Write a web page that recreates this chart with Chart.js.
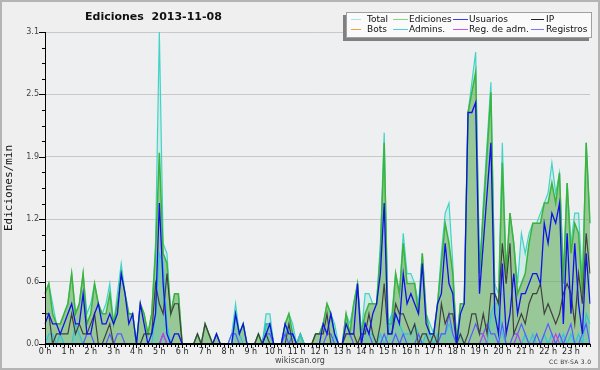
<!DOCTYPE html>
<html>
<head>
<meta charset="utf-8">
<script src="https://cdn.jsdelivr.net/npm/chart.js@4/dist/chart.umd.min.js"></script>
<style>
  body { margin: 0; background: #efefef; }
  #wrap { position: relative; width: 600px; height: 370px; background: #efefef; font-family: 'DejaVu Sans', sans-serif; overflow: hidden; }
  #chart { position: absolute; left: 0; top: 0; }
  .abs { position: absolute; white-space: pre; }
  #frame { position: absolute; left: 0; top: 0; width: 600px; height: 370px; box-sizing: border-box; border: 2px solid #b4b4b4; pointer-events: none; }
  #title { left: 85px; top: 10px; font-size: 11px; font-weight: bold; line-height: 13px; color: #111; }
  #site { left: 250px; width: 100px; top: 355px; font-size: 8px; line-height: 12px; color: #444; text-align: center; }
  #licence { left: 549px; top: 357px; font-size: 6px; line-height: 9px; letter-spacing: 0.3px; color: #333; }
  #legendShadow { position: absolute; left: 343px; top: 15px; width: 246px; height: 26px; background: #808080; }
  #legend { position: absolute; left: 346px; top: 12px; width: 244px; height: 24px; background: #fafafa; border: 1px solid #a0a0a0; }
  .sw { position: absolute; height: 1px; }
  .lb { position: absolute; font-size: 9px; line-height: 11px; color: #111; white-space: pre; }
</style>
</head>
<body>
<div id="wrap">
  <canvas id="chart" width="600" height="370"></canvas>
  <div id="title" class="abs">Ediciones  2013-11-08</div>
  <div id="site" class="abs">wikiscan.org</div>
  <div id="licence" class="abs">CC BY-SA 3.0</div>
  <div id="legendShadow"></div>
  <div id="legend"></div>
  <div id="frame"></div>
</div>
<script>
// 10-minute slots, values in edits per minute
const hourLabels = ['0 h', '1 h', '2 h', '3 h', '4 h', '5 h', '6 h', '7 h', '8 h', '9 h', '10 h', '11 h',
    '12 h', '13 h', '14 h', '15 h', '16 h', '17 h', '18 h', '19 h', '20 h', '21 h', '22 h', '23 h'];
const yTicks = [0, 0.62, 1.24, 1.86, 2.48, 3.1];

const total = [
    0.5,0.6,0.4,0.2,0.2,0.3, 0.4,0.7,0.3,0.4,0.7,0.3, 0.4,0.6,0.4,0.3,0.4,0.6, 0.2,0.5,0.8,0.5,0.3,0.3,
    0,0.4,0.3,0.1,0.3,1.0, 3.1,1.0,0.9,0.3,0.5,0.5, 0,0,0,0,0.1,0, 0.2,0.1,0,0.1,0,0,
    0,0.1,0.4,0.1,0.2,0, 0,0,0.1,0,0.3,0.3, 0,0,0,0.2,0.3,0.2, 0,0.1,0,0,0,0.1,
    0.1,0.2,0.4,0.3,0.2,0, 0,0.3,0.2,0.4,0.6,0.1, 0.5,0.5,0.4,0.4,1.0,2.1, 0.2,0.3,0.7,0.5,1.1,0.7,
    0.7,0.6,0.4,0.9,0.3,0.2, 0.1,0.4,0.9,1.3,1.4,0.8, 0,0.4,0.4,2.3,2.6,2.9, 0.7,1.4,2.0,2.6,0.6,0.5,
    2.0,0.7,1.3,1.0,0.6,1.1, 0.9,1.1,1.2,1.2,1.3,1.4, 1.5,1.8,1.5,1.7,0.7,1.6, 1.0,1.3,1.3,0.6,2.0,1.2
];
const ediciones = [
    0.5,0.6,0.3,0.2,0.2,0.3, 0.4,0.7,0.3,0.4,0.7,0.2, 0.3,0.6,0.4,0.3,0.3,0.5, 0.2,0.4,0.7,0.5,0.3,0.3,
    0,0.4,0.3,0.1,0.3,0.9, 1.9,0.9,0.8,0.3,0.5,0.5, 0,0,0,0,0.1,0, 0.2,0.1,0,0.1,0,0,
    0,0,0.3,0.1,0.2,0, 0,0,0.1,0,0.2,0.2, 0,0,0,0.2,0.3,0.1, 0,0.1,0,0,0,0.1,
    0.1,0.2,0.4,0.3,0.1,0, 0,0.3,0.1,0.4,0.6,0.1, 0.3,0.4,0.4,0.4,0.9,2.0, 0.2,0.2,0.7,0.5,1.0,0.6,
    0.6,0.6,0.3,0.9,0.3,0.1, 0.1,0.4,0.8,1.2,1.0,0.7, 0,0.4,0.4,2.3,2.5,2.7, 0.7,1.3,1.9,2.5,0.5,0.4,
    1.8,0.7,1.3,1.0,0.5,0.6, 0.7,1.0,1.2,1.2,1.2,1.4, 1.4,1.6,1.4,1.7,0.6,1.6, 0.9,1.2,1.1,0.5,2.0,1.2
];
const usuarios = [
    0.2,0.3,0.2,0.2,0.1,0.2, 0.3,0.4,0.2,0.2,0.5,0.1, 0.1,0.3,0.4,0.2,0.2,0.3, 0.2,0.3,0.7,0.5,0.2,0.3,
    0,0.4,0.2,0,0.1,0.3, 1.4,0.6,0.1,0,0.1,0.1, 0,0,0,0,0,0, 0,0,0,0.1,0,0,
    0,0,0.3,0.1,0.2,0, 0,0,0,0,0.1,0.2, 0,0,0,0.2,0.1,0.1, 0,0,0,0,0,0,
    0,0.2,0.1,0.3,0.1,0, 0,0.2,0.1,0.1,0.6,0, 0.2,0.1,0.3,0.4,0.7,1.4, 0.1,0.1,0.3,0.2,0.7,0.4,
    0.5,0.4,0.3,0.8,0.2,0.1, 0.1,0.4,0.5,1.0,0.6,0.5, 0,0.3,0.4,2.3,2.3,2.4, 0.5,1.0,1.5,2.0,0.3,0.1,
    0.8,0.1,0.3,0.7,0.3,0.5, 0.5,0.6,0.7,0.7,0.6,1.2, 1.0,1.3,1.2,1.4,0.2,1.1, 0.3,1.0,0.4,0.1,0.9,0.4
];
const ip = [
    0.3,0.3,0,0.1,0.1,0.1, 0.1,0.3,0.1,0.2,0.1,0.1, 0.2,0.3,0,0,0.1,0.2, 0,0,0,0,0,0,
    0,0,0.1,0.1,0.1,0.6, 0.4,0.3,0.7,0.3,0.4,0.4, 0,0,0,0,0.1,0, 0.2,0.1,0,0,0,0,
    0,0,0,0,0,0, 0,0,0.1,0,0.1,0, 0,0,0,0,0.2,0, 0,0,0,0,0,0.1,
    0.1,0.1,0.3,0,0,0, 0,0.1,0.1,0.1,0,0.1, 0.1,0.3,0.1,0,0.2,0.6, 0.1,0.1,0.4,0.3,0.3,0.2,
    0.1,0.2,0,0.1,0.1,0, 0.1,0,0.4,0.2,0.3,0.3, 0,0.1,0,0.1,0.3,0.3, 0.1,0.3,0.1,0.5,0.5,0.4,
    1.0,0.6,1.0,0.1,0.2,0.3, 0.2,0.4,0.5,0.5,0.6,0.3, 0.4,0.3,0.2,0.3,0.5,0.6, 0.5,0.2,0.7,0.4,1.1,0.7
];
const bots = [
    0,0,0,0,0,0, 0,0,0,0,0,0, 0,0,0,0,0,0, 0,0,0,0,0,0,
    0,0,0,0,0,0, 0,0,0,0,0,0, 0,0,0,0,0,0, 0,0,0,0,0,0,
    0,0,0,0,0,0, 0,0,0,0,0,0, 0,0,0,0,0,0, 0,0,0,0,0,0,
    0,0,0,0,0,0, 0,0,0,0,0,0, 0,0,0,0,0,0, 0,0,0,0,0,0,
    0,0,0,0,0,0, 0,0,0,0,0,0, 0,0,0,0,0,0, 0,0,0,0,0,0,
    0,0,0,0,0,0, 0,0,0,0,0,0, 0,0,0,0,0,0, 0,0,0,0,0,0
];
const admins = [
    0,0.1,0.1,0,0.1,0, 0,0,0.2,0.1,0,0, 0,0,0,0,0,0, 0,0,0,0,0,0,
    0,0,0,0,0,0.3, 0.9,0.8,0.2,0,0,0, 0,0,0,0,0,0, 0,0,0,0,0,0,
    0,0,0.3,0.1,0,0, 0,0,0,0,0.2,0.2, 0,0,0,0.1,0.2,0, 0,0.1,0,0,0,0,
    0,0,0,0,0.1,0, 0,0,0,0,0,0, 0.2,0.1,0.1,0,0.1,0, 0.1,0.3,0.3,0.2,0.1,0.1,
    0.1,0.2,0.1,0,0.1,0.1, 0,0.1,0.1,0.1,0.2,0.1, 0,0.1,0,0,0,0, 0,0.1,0,0.3,0.4,0.4,
    0.1,0,0,0,0.1,0, 0.1,0,0.1,0,0,0.1, 0,0.1,0,0,0.1,0, 0.1,0,0.1,0,0.3,0.2
];
const regAdm = [
    0,0,0,0,0,0, 0,0,0,0,0,0, 0,0,0,0,0,0, 0,0,0,0,0,0,
    0,0,0,0,0,0, 0,0.1,0,0,0,0, 0,0,0,0,0,0, 0,0,0,0,0,0,
    0,0,0,0,0,0, 0,0,0,0,0,0, 0,0,0,0,0,0, 0,0,0,0,0,0,
    0,0,0,0,0,0, 0,0,0,0,0,0, 0,0,0,0,0,0, 0,0,0,0,0,0,
    0,0,0,0,0,0, 0,0,0,0,0,0, 0,0,0,0,0,0, 0,0.1,0,0,0,0,
    0,0,0,0,0.1,0, 0,0,0,0,0,0, 0,0,0.1,0,0,0, 0,0,0,0,0,0
];
const registros = [
    0,0,0,0,0,0, 0,0,0,0,0,0.1, 0.1,0,0,0,0,0.1, 0,0.1,0.1,0,0,0,
    0,0,0,0,0,0, 0,0.1,0,0,0,0, 0,0,0,0,0,0, 0,0,0,0,0,0,
    0,0.1,0.1,0,0,0, 0,0,0,0,0.1,0.1, 0,0,0,0.1,0,0.1, 0,0,0,0,0,0,
    0,0,0.1,0.1,0,0, 0,0.1,0.1,0,0,0, 0.2,0.1,0,0,0,0.1, 0,0,0.1,0,0.1,0,
    0,0,0.1,0,0,0, 0,0,0.1,0.1,0.3,0.1, 0,0,0,0,0.1,0.2, 0.1,0.1,0.2,0.1,0.1,0,
    0.2,0,0,0.1,0.1,0.2, 0.1,0,0,0.1,0,0.1, 0.2,0.1,0,0.1,0,0.1, 0.2,0,0,0.1,0.2,0
];

const slots = [];
for (let h = 0; h < 24; h++) {
    for (let m = 0; m < 60; m += 10) slots.push(h + ':' + String(m).padStart(2, '0'));
}

// legend entries: name, swatch colour, column, row
const legendItems = [
    ['Total', '#a8e6e0', 0, 0], ['Ediciones', '#88d488', 1, 0], ['Usuarios', '#3c3ce8', 2, 0], ['IP', '#222222', 3, 0],
    ['Bots', '#f0a040', 0, 1], ['Admins.', '#50cce6', 1, 1], ['Reg. de adm.', '#d050e8', 2, 1], ['Registros', '#7878f0', 3, 1]
];
const swatchX = [[4, 10, 20], [46, 15, 62], [106, 15, 122], [184, 13, 199]];

function buildLegend() {
    const box = document.getElementById('legend');
    legendItems.forEach(([name, color, col, row]) => {
        const [sx, sw, tx] = swatchX[col];
        const s = document.createElement('div');
        s.className = 'sw';
        s.style.left = sx + 'px';
        s.style.width = sw + 'px';
        s.style.top = (6 + row * 10) + 'px';
        s.style.background = color;
        box.appendChild(s);
        const t = document.createElement('div');
        t.className = 'lb';
        t.style.left = tx + 'px';
        t.style.top = (1 + row * 10) + 'px';
        t.textContent = name;
        box.appendChild(t);
    });
}

function series(label, data, color, width, order, fillColor) {
    return {
        label: label,
        data: data,
        borderColor: color,
        borderWidth: width,
        backgroundColor: fillColor || color,
        fill: fillColor ? 'origin' : false,
        order: order,
        pointRadius: 0,
        tension: 0
    };
}

// axis lines and tick marks drawn over the data, like the original
const axesPlugin = {
    id: 'axesPlugin',
    beforeDraw(chart) {
        const { ctx, chartArea: a } = chart;
        ctx.save();
        ctx.fillStyle = '#eeeff0';
        ctx.fillRect(a.left, a.top, a.right - a.left, a.bottom - a.top);
        ctx.restore();
    },
    afterDatasetsDraw(chart) {
        const { ctx, chartArea: a, scales } = chart;
        const x = scales.x, y = scales.y;
        ctx.save();
        ctx.strokeStyle = '#000';
        ctx.lineWidth = 1;
        ctx.beginPath();
        for (let k = 0; k <= 20; k++) {
            const py = Math.round(y.getPixelForValue(3.1 * k / 20)) + 0.5;
            const len = k % 4 === 0 ? 6 : 3;
            ctx.moveTo(a.left - len, py);
            ctx.lineTo(a.left, py);
        }
        for (let i = 0; i < slots.length; i++) {
            const px = Math.round(x.getPixelForValue(i)) + 0.5;
            ctx.moveTo(px, a.bottom);
            ctx.lineTo(px, a.bottom + (i % 6 === 0 ? 4 : 3));
        }
        ctx.moveTo(a.left + 0.5, a.top);
        ctx.lineTo(a.left + 0.5, a.bottom);
        ctx.stroke();
        ctx.lineWidth = 2;
        ctx.beginPath();
        ctx.moveTo(a.left, a.bottom);
        ctx.lineTo(a.right, a.bottom);
        ctx.stroke();
        ctx.restore();
    }
};

function drawChart() {
    Chart.defaults.font.family = "'DejaVu Sans', sans-serif";
    const ctx = document.getElementById('chart').getContext('2d');
    new Chart(ctx, {
        type: 'line',
        data: {
            labels: slots,
            datasets: [
                series('Total', total, '#40d4c8', 1.2, 7, 'rgba(64,212,200,0.18)'),
                series('Ediciones', ediciones, '#3cb43c', 1.5, 6, 'rgba(97,165,71,0.5)'),
                series('Admins.', admins, '#30c4e0', 1.2, 5, 'rgba(40,190,220,0.2)'),
                series('Registros', registros, '#5a5aff', 1.2, 4),
                series('Reg. de adm.', regAdm, '#c840e0', 1.2, 3),
                series('Bots', bots, '#f09030', 1.2, 2),
                series('IP', ip, '#404040', 1.2, 1),
                series('Usuarios', usuarios, '#1010e8', 1.3, 0)
            ]
        },
        options: {
            responsive: false,
            animation: false,
            devicePixelRatio: 1,
            layout: { padding: { top: 32, right: 10, left: 0, bottom: 0 } },
            plugins: {
                legend: { display: false },
                tooltip: { enabled: false }
            },
            scales: {
                x: {
                    type: 'category',
                    offset: false,
                    grid: { display: false, drawTicks: false },
                    border: { display: false },
                    ticks: {
                        autoSkip: false,
                        maxRotation: 0,
                        minRotation: 0,
                        padding: 3,
                        color: '#222',
                        font: { size: 8 },
                        callback: (v, i) => i % 6 === 0 ? hourLabels[i / 6] : ''
                    },
                    afterFit: s => { s.height = 26; }
                },
                y: {
                    min: 0,
                    max: 3.1,
                    afterBuildTicks: s => { s.ticks = yTicks.map(v => ({ value: v })); },
                    grid: { color: '#c8c8c8', drawTicks: false },
                    border: { display: false },
                    ticks: {
                        padding: 6,
                        color: '#444',
                        font: { size: 8 },
                        callback: v => Number(v).toFixed(1)
                    },
                    title: {
                        display: true,
                        text: 'Ediciones/min',
                        color: '#111',
                        font: { family: "'DejaVu Sans Mono', monospace", size: 11 },
                        padding: { top: 3, bottom: 0 }
                    },
                    afterFit: s => { s.width = 45; }
                }
            }
        },
        plugins: [axesPlugin]
    });
}

buildLegend();
drawChart();
</script>
</body>
</html>
